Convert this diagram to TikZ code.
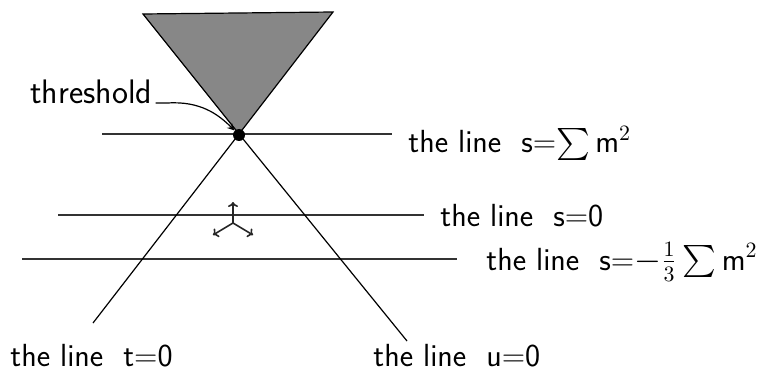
\documentclass[tikz,border=0pt]{standalone}
\usepackage{amsmath,amssymb}
\usepackage{xcolor}
\usepackage{tikz}
\usetikzlibrary{arrows.meta}
\newcommand{\lsum}{$\textstyle\sum$}

\begin{document}
\begin{tikzpicture}[x=0.5pt,y=-0.5pt,>=stealth,
  lab/.style={font=\sffamily\fontsize{16}{18}\selectfont,inner sep=0pt},
  sline/.style={draw=black!80,line width=0.8pt},
  dline/.style={draw=black,line width=0.6pt},
  dir/.style={-{To[length=2.5pt,width=5pt]},line width=0.8pt,black!85},
  cone/.style={fill=black!47,draw=black,line width=0.6pt}]
\useasboundingbox (0,0) rectangle (771,374);
% shaded cone above the threshold
\filldraw[cone] (143,14) -- (333,12) -- (239,134) -- cycle;
% the three lines of constant s
\draw[sline] (102,134) -- (392,134);
\draw[sline] (58,215) -- (424,215);
\draw[sline] (22,259) -- (457,259);
% the lines t=0 and u=0
\draw[dline] (239,134) -- (93,323);
\draw[dline] (239,134) -- (407,341);
% threshold point
\node[circle,fill=black,inner sep=0pt,minimum size=6pt] (thr) at (239,135) {};
\node[lab,anchor=base west,font=\sffamily\fontsize{17}{18}\selectfont] (thrlab) at (30,104) {threshold};
\draw[->,line width=0.6pt] (thrlab.base east) ++(3,-1) coordinate (thrs) -- ++(12,0)
  .. controls (200,101) and (218,114) .. (thr.north west);
% the three directions
\node[inner sep=0pt] (ctr) at (233,223) {};
\draw[dir] (ctr.center) -- (233,202);
\draw[dir] (ctr.center) -- (213,235);
\draw[dir] (ctr.center) -- (253,235);
% labels
\node[lab,anchor=base west] (ls1) at (408,153) {the line\ \ s=\lsum\,m$^2$};
\node[lab,anchor=base west] (ls0) at (440,227) {the line\ \ s=0};
\node[lab,anchor=base west] (ls3) at (486,270) {the line\ \ s=$-\tfrac{1}{3}\,$\lsum\,m$^2$};
\node[lab,anchor=base west] (lt) at (10,366) {the line\ \ t=0};
\node[lab,anchor=base west] (lu) at (373,366) {the line\ \ u=0};
\end{tikzpicture}
\end{document}
